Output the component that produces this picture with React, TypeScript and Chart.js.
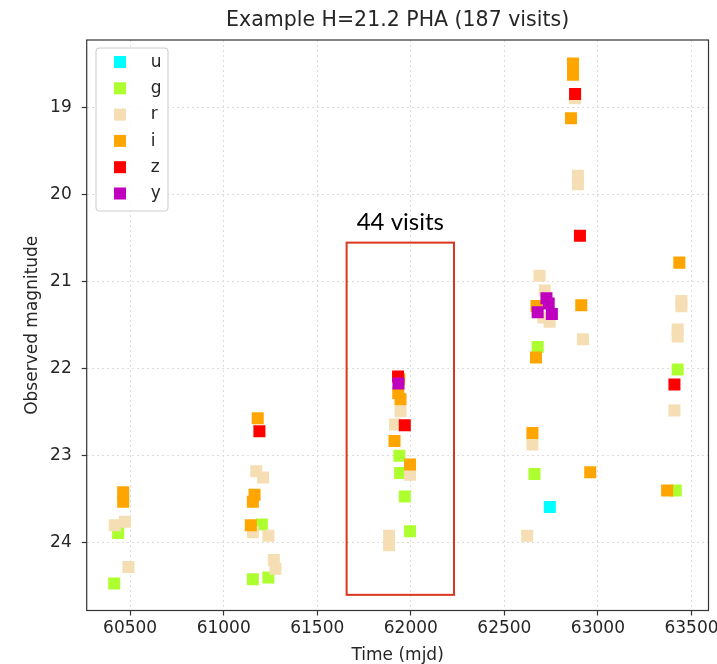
import { useEffect, useRef } from 'react';
import { Chart, registerables } from 'chart.js';

Chart.register(...registerables);

// ---- data ----
const filterNames = ['u', 'g', 'r', 'i', 'z', 'y'];
const filterColors = ['#00ffff', '#adff2f', '#f5deb3', '#ffa500', '#ff0000', '#bf00bf'];

const uTime = [62743];
const uMag = [23.59];

const gTime = [60436, 60415, 61204, 61156, 61239, 61939, 61943, 61968, 61996, 62678, 62661, 63426, 63416];
const gMag = [23.89, 24.47, 23.79, 24.42, 24.40, 23.00, 23.20, 23.47, 23.87, 21.75, 23.21, 22.01, 23.40];

const rTime = [60418, 60472, 60491, 61174, 61211, 61156, 61239, 61268, 61277, 61945, 61916, 61996, 61884, 61884,
  62688, 62716, 62708, 62742, 62920, 62650, 62622, 62878, 62893, 62893, 63446, 63446, 63426, 63426, 63409];
const rMag = [23.80, 23.76, 24.28, 23.18, 23.25, 23.88, 23.92, 24.20, 24.30, 22.49, 22.64, 23.22, 23.92, 24.03,
  20.93, 21.10, 21.41, 21.46, 21.66, 22.87, 23.92, 18.89, 19.78, 19.88, 21.22, 21.28, 21.55, 21.63, 22.48];

const iTime = [60463, 60463, 61182, 61165, 61156, 61145, 61938, 61933, 61945, 61913, 61996,
  62672, 62911, 62669, 62650, 62959, 62867, 62867, 62856, 63435, 63370];
const iMag = [23.42, 23.53, 22.57, 23.45, 23.53, 23.80, 22.12, 22.28, 22.35, 22.83, 23.10,
  21.28, 21.27, 21.87, 22.74, 23.19, 18.49, 18.62, 19.12, 20.78, 23.40];

const zTime = [61191, 61932, 61968, 62878, 62904, 63409];
const zMag = [22.72, 22.09, 22.65, 18.84, 20.47, 22.18];

const yTime = [61934, 62725, 62737, 62678, 62754];
const yMag = [22.17, 21.19, 21.25, 21.35, 21.37];

const filterTimes = [uTime, gTime, rTime, iTime, zTime, yTime];
const filterMags = [uMag, gMag, rMag, iMag, zMag, yMag];

const xTicks = [60500, 61000, 61500, 62000, 62500, 63000, 63500];
const yTicks = [19, 20, 21, 22, 23, 24];
const xRange = [60268, 63591];
const yRange = [18.22, 24.78];

const titleText = 'Example H=21.2 PHA (187 visits)';
const xLabel = 'Time (mjd)';
const yLabel = 'Observed magnitude';
const boxLabel = '44 visits';
const boxTime = [61657, 62231];
const boxMag = [20.55, 24.6];

const FONT = '"DejaVu Sans"';
const TEXT = '#262626';

const overlay = {
  id: 'overlay',
  afterDraw(chart: any) {
    const { ctx, chartArea: a, scales } = chart;
    ctx.save();
    // frame
    ctx.strokeStyle = '#333333';
    ctx.lineWidth = 1.2;
    ctx.strokeRect(a.left, a.top, a.right - a.left, a.bottom - a.top);

    // title
    ctx.fillStyle = TEXT;
    ctx.font = `20.5px ${FONT}`;
    ctx.textAlign = 'center';
    ctx.textBaseline = 'alphabetic';
    ctx.fillText(titleText, (a.left + a.right) / 2, 26);

    // annotation box
    const x0 = scales.x.getPixelForValue(boxTime[0]);
    const x1 = scales.x.getPixelForValue(boxTime[1]);
    const y0 = scales.y.getPixelForValue(boxMag[0]);
    const y1 = scales.y.getPixelForValue(boxMag[1]);
    ctx.strokeStyle = '#d9361c';
    ctx.lineWidth = 2;
    ctx.strokeRect(x0, y0, x1 - x0, y1 - y0);
    ctx.fillStyle = '#000000';
    ctx.font = '24px Lato';
    ctx.fillText(boxLabel, (x0 + x1) / 2, y0 - 12.7);

    // legend
    const lx = a.left + 9.3;
    const ly = a.top + 8;
    const lw = 72;
    const lh = 163;
    ctx.beginPath();
    ctx.roundRect(lx, ly, lw, lh, 3);
    ctx.fillStyle = 'rgba(255,255,255,0.85)';
    ctx.fill();
    ctx.strokeStyle = '#cccccc';
    ctx.lineWidth = 1;
    ctx.stroke();
    ctx.font = `17px ${FONT}`;
    ctx.textAlign = 'left';
    filterNames.forEach((name, k) => {
      const cy = a.top + 22 + k * 26.3;
      ctx.fillStyle = filterColors[k];
      ctx.fillRect(a.left + 27.3, cy - 6, 12, 12);
      ctx.fillStyle = TEXT;
      ctx.fillText(name, a.left + 64, cy + 4.6);
    });
    ctx.restore();
  },
};

export default function App() {
  const ref = useRef<HTMLCanvasElement | null>(null);

  useEffect(() => {
    document.body.style.margin = '0';
    const canvas = ref.current;
    if (!canvas) return;
    const datasets = filterNames.map((name, k) => ({
      label: name,
      data: filterTimes[k].map((t, j) => ({ x: t, y: filterMags[k][j] })),
      backgroundColor: filterColors[k],
      borderWidth: 0,
      pointStyle: 'rect',
      pointRadius: 8.5,
      pointHoverRadius: 8.5,
      showLine: false,
      order: filterNames.length - k,
    }));
    const chart = new Chart(canvas, {
      type: 'scatter',
      data: { datasets },
      options: {
        animation: false,
        responsive: false,
        events: [],
        layout: { padding: { top: 40, right: 7, left: 0, bottom: 0 } },
        plugins: {
          legend: { display: false },
          tooltip: { enabled: false },
          title: { display: false },
        },
        scales: {
          x: {
            type: 'linear',
            min: xRange[0],
            max: xRange[1],
            afterBuildTicks: (axis: any) => {
              axis.ticks = xTicks.map((v) => ({ value: v }));
            },
            afterFit: (axis: any) => {
              axis.height = 53.5;
              axis.paddingLeft = 0;
              axis.paddingRight = 0;
            },
            ticks: {
              autoSkip: false,
              maxRotation: 0,
              padding: 3,
              color: TEXT,
              font: { family: FONT, size: 17 },
              callback: (v: any) => String(v),
            },
            title: {
              display: true,
              text: xLabel,
              color: TEXT,
              font: { family: FONT, size: 17, lineHeight: 1.0 },
              padding: { top: 0, bottom: 0 },
            },
            grid: {
              color: '#dcdcdc',
              lineWidth: 1,
              tickColor: '#333333',
              tickLength: 5,
              tickWidth: 1.2,
              tickBorderDash: [],
            },
            border: { display: false, dash: [2, 3] },
          },
          y: {
            type: 'linear',
            reverse: true,
            min: yRange[0],
            max: yRange[1],
            afterBuildTicks: (axis: any) => {
              axis.ticks = yTicks.map((v) => ({ value: v }));
            },
            afterFit: (axis: any) => {
              axis.width = 86.7;
              axis.paddingTop = 0;
              axis.paddingBottom = 0;
            },
            ticks: {
              autoSkip: false,
              padding: 10,
              color: TEXT,
              font: { family: FONT, size: 17 },
              callback: (v: any) => String(v),
            },
            title: {
              display: true,
              text: yLabel,
              color: TEXT,
              font: { family: FONT, size: 17 },
              padding: { top: 22.8, bottom: 0 },
            },
            grid: {
              color: '#dcdcdc',
              lineWidth: 1,
              tickColor: '#333333',
              tickLength: 5,
              tickWidth: 1.2,
              tickBorderDash: [],
            },
            border: { display: false, dash: [2, 3] },
          },
        },
      },
      plugins: [overlay],
    } as any);
    return () => chart.destroy();
  }, []);

  return (
    <div style={{ width: 717, height: 664, position: 'relative' }}>
      <canvas ref={ref} width={717} height={664} style={{ display: 'block' }} />
    </div>
  );
}
